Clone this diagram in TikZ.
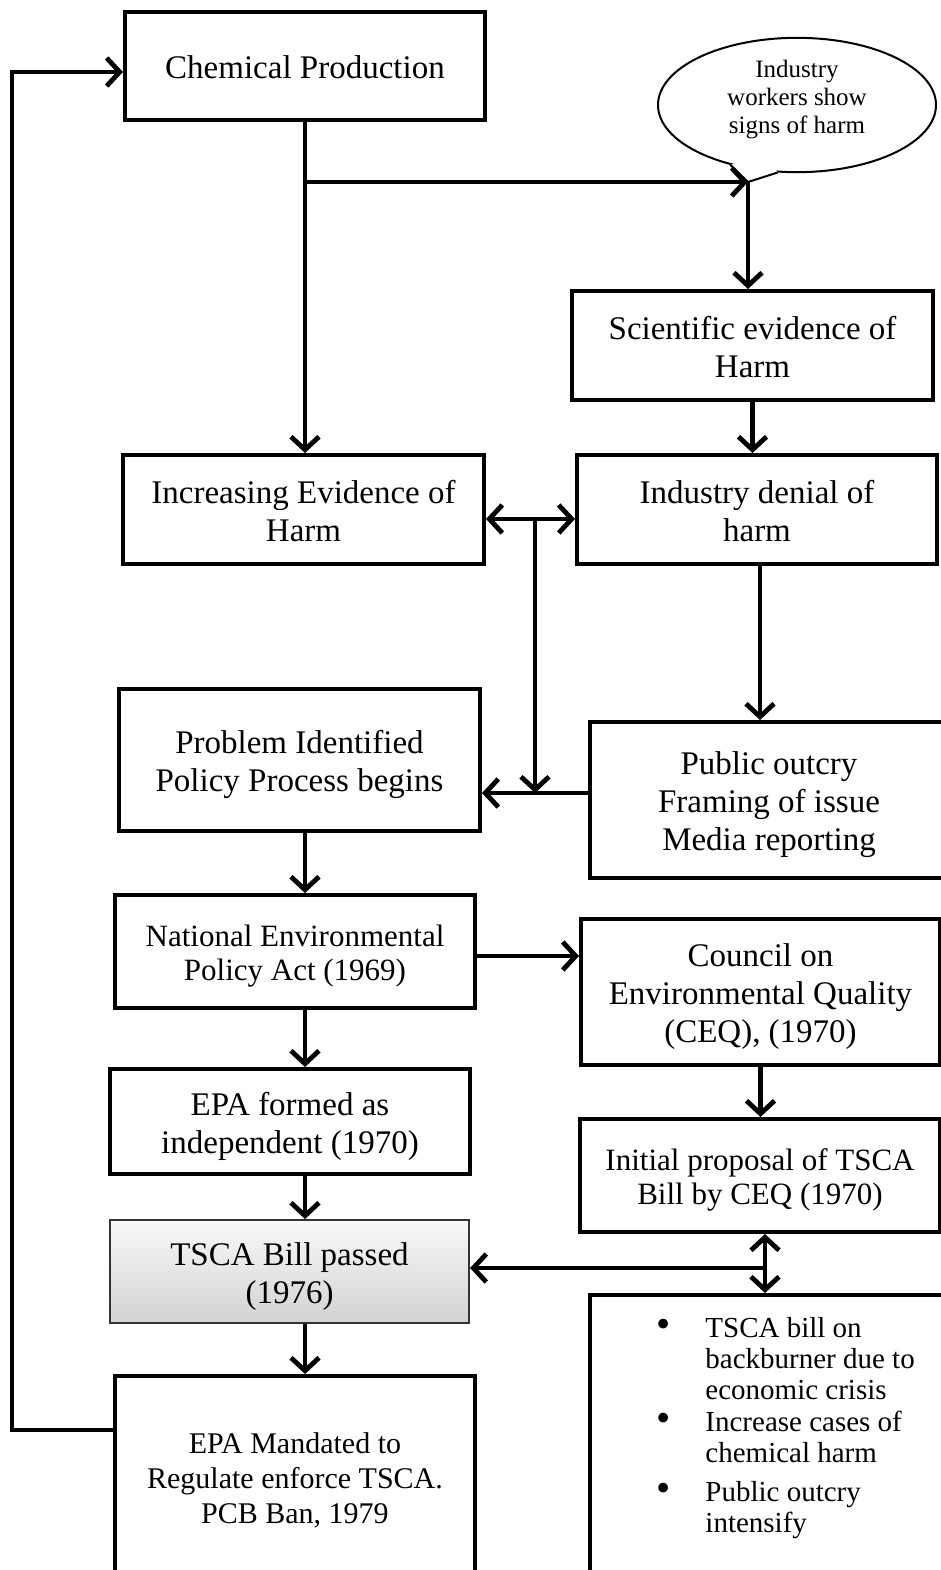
\documentclass[tikz,border=0pt]{standalone}
\usepackage{fontspec}
\setmainfont{Liberation Serif}
\usetikzlibrary{arrows.meta,shapes.geometric,calc}
\tikzset{box/.style={draw, line width=4pt, align=center, font=\fontsize{33}{38}\selectfont},
  smalltext/.style={font=\fontsize{31}{34}\selectfont},
  arr/.style={line width=4.8pt, -{Straight Barb[length=13pt,width=28pt]}},
  arrs/.style={line width=4.8pt, {Straight Barb[length=13pt,width=28pt]}-{Straight Barb[length=13pt,width=28pt]}}}
% text sits a little low in the boxes, a little high in the bubble
\newcommand{\boxtext}[1]{\raisebox{0pt}[\dimexpr\height+10pt\relax][\depth]{\begin{tabular}{@{}c@{}}#1\end{tabular}}}
\newcommand{\bubbletext}[1]{\raisebox{0pt}[\height][\dimexpr\depth+11pt\relax]{\begin{tabular}{@{}c@{}}#1\end{tabular}}}

\begin{document}
\begin{tikzpicture}[x=1pt,y=-1pt]
\useasboundingbox (0,0) rectangle (941,1570);
% boxes on the left
\node[box, minimum width=360, minimum height=108] (chem) at (305,66) {\boxtext{Chemical Production}};
\node[box, minimum width=361, minimum height=109] (incr) at (303.5,509.5) {\boxtext{Increasing Evidence of\\Harm}};
\node[box, minimum width=361, minimum height=142] (prob) at (299.5,760) {\boxtext{Problem Identified\\Policy Process begins}};
\node[box, smalltext, minimum width=360, minimum height=113] (nepa) at (295,951.5) {\boxtext{National Environmental\\Policy Act (1969)}};
\node[box, minimum width=360, minimum height=105] (epaf) at (290,1121.5) {\boxtext{EPA formed as\\independent (1970)}};
\node[box, line width=2pt, draw=black!80, top color=gray!5, bottom color=gray!35, minimum width=359, minimum height=103] (tsca) at (289.5,1271.5) {\boxtext{TSCA Bill passed\\(1976)}};
\node[box, font=\fontsize{30}{35}\selectfont, minimum width=360, minimum height=200] (mand) at (295,1476) {\boxtext{EPA Mandated to\\Regulate enforce TSCA.\\PCB Ban, 1979}};
% boxes on the right
\node[ellipse, draw, line width=2pt, fill=white, minimum width=278, minimum height=130, inner sep=0pt, font=\fontsize{25}{28}\selectfont] (bubble) at (797,105) {\bubbletext{Industry\\workers show\\signs of harm}};
\node[box, minimum width=361, minimum height=109] (sci) at (752.5,345.5) {\boxtext{Scientific evidence of\\Harm}};
\node[box, minimum width=360, minimum height=109] (deny) at (757,509.5) {\boxtext{Industry denial of\\harm}};
\node[box, minimum width=358, minimum height=156] (outcry) at (769,800) {\boxtext{Public outcry\\Framing of issue\\Media reporting}};
\node[box, minimum width=359, minimum height=146] (ceq) at (760.5,992) {\boxtext{Council on\\Environmental Quality\\(CEQ), (1970)}};
\node[box, smalltext, minimum width=360, minimum height=113] (init) at (760,1175.5) {\boxtext{Initial proposal of TSCA\\Bill by CEQ (1970)}};
\node[box, font=\fontsize{29}{31}\selectfont, minimum width=370, minimum height=300] (bul) at (775,1445) {%
  \begin{tabular}{@{\hspace{21pt}}c@{\hspace{35pt}}l@{}}
  \scalebox{1.4}{\textbullet} & TSCA bill on\\
   & backburner due to\\
   & economic crisis\\[1pt]
  \scalebox{1.4}{\textbullet} & Increase cases of\\
   & chemical harm\\[8pt]
  \scalebox{1.4}{\textbullet} & Public outcry\\
   & intensify\\[32pt]
  \end{tabular}};

% bubble tail
\coordinate (tip) at (748,182);
\fill[white] (bubble.222) -- (tip) -- (bubble.254) -- ($(bubble.238)!0.25!(bubble.center)$) -- cycle;
\draw[line width=2pt] (bubble.222) -- (tip) -- (bubble.254);

% helper points
\coordinate (col) at (305,0);
\coordinate (mid) at (535,519);
\coordinate (mid2) at (535,793);
\coordinate (j2) at (765,1268);
\coordinate (lp) at (12,1430);
\coordinate (lq) at (12,72);

% connectors
\draw[arr] (chem.south -| col) -- (incr.north -| col);
\draw[arr] (chem.south |- tip) -- (tip);
\draw[arr] (tip) -- (tip |- sci.north);
\draw[arr] (sci.south) -- (sci.south |- deny.north);
\draw[arrs] (incr.east |- mid) -- (deny.west |- mid);
\draw[arr] (mid) -- (mid2);
\draw[arr] (outcry.west |- mid2) -- (prob.east |- mid2);
\draw[arr] ([xshift=3pt]deny.south) -- ([xshift=3pt]deny.south |- outcry.north);
\draw[arr] (prob.south -| col) -- (nepa.north -| col);
\draw[arr] (nepa.east |- 0,956) -- (ceq.west |- 0,956);
\draw[arr] (nepa.south -| col) -- (epaf.north -| col);
\draw[arr] (ceq.south) -- (ceq.south |- init.north);
\draw[arr] (epaf.south -| col) -- (tsca.north -| col);
\draw[arrs] (init.south -| j2) -- (bul.north -| j2);
\draw[arr] (j2) -- (tsca.east |- j2);
\draw[arr] (tsca.south -| col) -- (mand.north -| col);
\draw[arr] ([xshift=3pt]mand.west |- lp) -- (lp) -- (lq) -- (chem.west |- lq);
\end{tikzpicture}
\end{document}
